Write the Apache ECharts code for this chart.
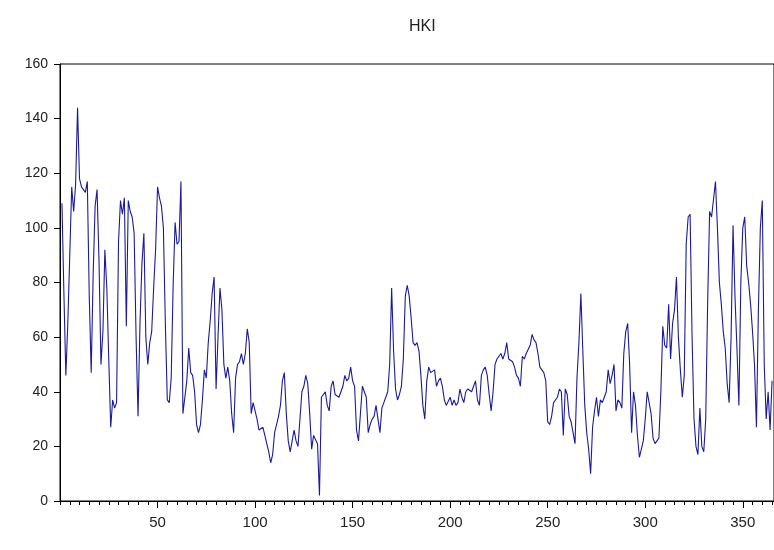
<!DOCTYPE html>
<html>
<head>
<meta charset="utf-8">
<script src="https://cdn.jsdelivr.net/npm/echarts@6/dist/echarts.min.js"></script>
<style>
html,body{margin:0;padding:0;background:#fff;}
#chart{width:774px;height:550px;}
</style>
</head>
<body>
<div id="chart"></div>
<script>
var chartTitle = "HKI";
var firstObservation = 1;
var hkiValues = [
  109, 76, 46, 65, 90, 115, 106, 116, 144, 118,
  115, 114, 113, 117, 75, 47, 83, 108, 114, 88,
  50, 62, 92, 78, 52, 27, 37, 34, 36, 95,
  110, 105, 111, 64, 110, 106, 104, 98, 60, 31,
  65, 87, 98, 60, 50, 58, 62, 78, 92, 115,
  111, 108, 100, 65, 37, 36, 45, 79, 102, 94,
  95, 117, 32, 38, 44, 56, 47, 46, 40, 28,
  25, 28, 37, 48, 45, 58, 66, 76, 82, 41,
  60, 78, 70, 50, 45, 49, 44, 32, 25, 45,
  50, 51, 54, 50, 54, 63, 58, 32, 36, 36,
  30, 26, 26, 27, 24, 21, 18, 14, 17, 25,
  28, 31, 35, 44, 47, 32, 22, 18, 22, 26,
  22, 20, 30, 40, 42, 46, 43, 32, 19, 24,
  24, 21, 2, 38, 38, 40, 35, 33, 42, 44,
  39, 39, 38, 38, 42, 46, 44, 45, 49, 44,
  42, 26, 22, 32, 42, 42, 38, 25, 28, 30,
  31, 35, 30, 25, 34, 36, 38, 40, 50, 78,
  55, 41, 37, 39, 42, 52, 75, 79, 75, 67,
  58, 57, 58, 55, 46, 35, 30, 44, 49, 47,
  47, 48, 42, 44, 45, 42, 37, 35, 35, 38,
  35, 37, 35, 36, 41, 38, 36, 40, 41, 41,
  40, 42, 44, 37, 35, 46, 48, 49, 46, 39,
  33, 40, 50, 52, 53, 54, 52, 54, 58, 52,
  52, 51, 49, 46, 45, 42, 53, 52, 54, 54,
  57, 61, 59, 58, 54, 49, 48, 47, 44, 29,
  28, 31, 36, 36, 38, 41, 40, 24, 41, 39,
  31, 29, 25, 21, 45, 58, 76, 55, 35, 25,
  19, 10, 27, 33, 38, 31, 37, 36, 38, 40,
  48, 43, 46, 50, 33, 37, 36, 34, 54, 62,
  65, 50, 25, 40, 35, 24, 16, 16, 22, 30,
  40, 40, 32, 23, 21, 21, 23, 40, 64, 57,
  56, 72, 52, 65, 70, 82, 60, 48, 38, 46,
  94, 104, 105, 60, 30, 20, 17, 34, 20, 18,
  30, 73, 106, 104, 104, 117, 100, 80, 72, 62,
  56, 43, 36, 60, 101, 75, 56, 35, 80, 100,
  104, 86, 80, 72, 62, 50, 27, 70, 100, 110,
  50, 30, 40, 26, 44
];
var xTickLabels = [50, 100, 150, 200, 250, 300, 350];
var yTickLabels = [0, 20, 40, 60, 80, 100, 120, 140, 160];

var seriesData = hkiValues.map(function (v, i) { return [firstObservation + i, v]; });
var FONT = "'Liberation Sans', Arial, sans-serif";

var chart = echarts.init(document.getElementById('chart'), null, {renderer: 'canvas'});
chart.setOption({
  animation: false,
  backgroundColor: '#ffffff',
  title: {
    text: chartTitle,
    left: 404,
    top: 14,
    textStyle: {fontFamily: FONT, fontSize: 16, fontWeight: 'normal', color: '#222'}
  },
  grid: {
    left: 60, top: 64, width: 721, height: 437,
    show: true, borderColor: '#000', borderWidth: 1, backgroundColor: '#fff'
  },
  xAxis: [{
    type: 'value',
    min: 0, max: 366, interval: 50,
    axisLine: {show: true, onZero: false, lineStyle: {color: '#000', width: 1}},
    axisTick: {show: true, inside: false, length: 7, lineStyle: {color: '#000'}},
    splitLine: {show: false},
    axisLabel: {
      show: true, margin: 14, showMinLabel: false, showMaxLabel: false,
      fontFamily: FONT, fontSize: 15, color: '#222',
      formatter: function (v) { return xTickLabels.indexOf(v) >= 0 ? String(v) : ''; }
    }
  }, {
    type: 'value',
    position: 'bottom',
    offset: 0,
    min: 0, max: 366, interval: 5,
    axisLine: {show: false, onZero: false},
    axisTick: {show: true, inside: false, length: 4, lineStyle: {color: '#000'}},
    splitLine: {show: false},
    axisLabel: {show: false}
  }],
  yAxis: {
    type: 'value',
    min: 0, max: 160, interval: 20,
    axisLine: {show: true, lineStyle: {color: '#000', width: 1}},
    axisTick: {show: true, inside: false, length: 6, lineStyle: {color: '#000'}},
    splitLine: {show: false},
    axisLabel: {
      show: true, margin: 12,
      fontFamily: FONT, fontSize: 14, color: '#222',
      formatter: function (v) { return yTickLabels.indexOf(v) >= 0 ? String(v) : ''; }
    }
  },
  series: [{
    type: 'line',
    xAxisIndex: 0,
    data: seriesData,
    showSymbol: false,
    symbol: 'none',
    lineStyle: {color: '#1a1a9a', width: 1.1},
    clip: true
  }]
});
</script>
</body>
</html>
